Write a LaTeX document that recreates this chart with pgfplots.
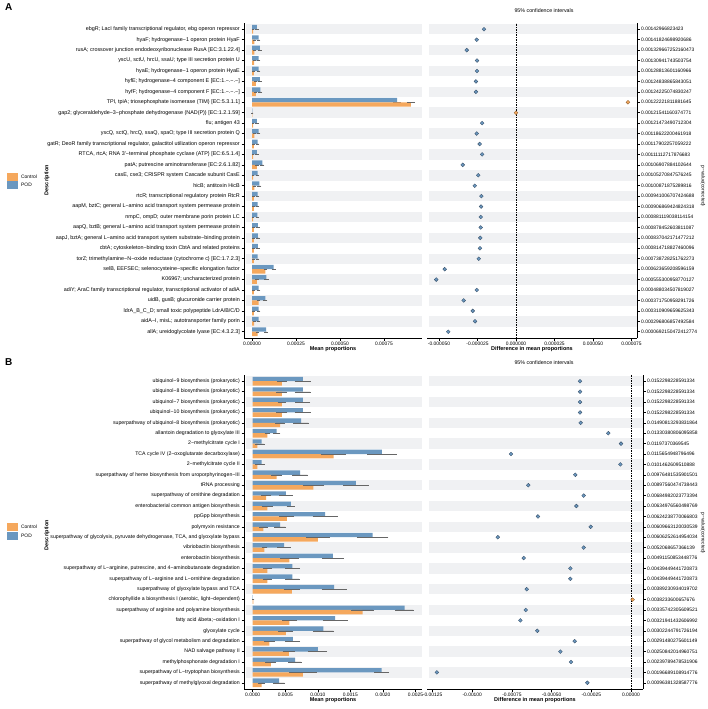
\documentclass[border=0pt]{standalone}
\usepackage{pgfplots}
\pgfplotsset{compat=1.18}
\usepackage{pgfplotstable}
\usepackage{fontspec}
\setmainfont{Liberation Sans}

\definecolor{pod}{RGB}{107,152,192}
\definecolor{ctrl}{RGB}{245,168,93}
\definecolor{stripe}{RGB}{240,241,243}
\definecolor{podedge}{RGB}{60,85,110}
\definecolor{ctrledge}{RGB}{150,100,50}

\newcommand\lab{\fontsize{4.9bp}{5.5bp}\selectfont}
\newcommand\labA{\fontsize{5.4bp}{6bp}\selectfont}
\newcommand\labB{\fontsize{5.2bp}{6bp}\selectfont}
\newcommand\ttl{\fontsize{5.5bp}{6.5bp}\selectfont\bfseries}

% row pod poderr ctrl ctrlerr diff
\pgfplotstableread{
row pod poderr ctrl ctrlerr diff
1 0.000028 0.000004 0.000006 0.000002 -0.0000208
2 0.000038 0.000005 0.000013 0.000003 -0.0000255
3 0.000044 0.000007 0.000013 0.000003 -0.000032
4 0.000038 0.000005 0.000012 0.000003 -0.0000253
5 0.000038 0.000005 0.000010 0.000003 -0.0000253
6 0.000044 0.000005 0.000022 0.000004 -0.000026
7 0.000047 0.000005 0.000022 0.000004 -0.000026
8 0.000824 0.000015 0.000903 0.000017 0.0000727
9 0.000002 0.000001 0.000002 0.000001 0
10 0.000028 0.000004 0.000006 0.000002 -0.000022
11 0.000038 0.000005 0.000013 0.000003 -0.0000255
12 0.000032 0.000005 0.000010 0.000003 -0.0000236
13 0.000028 0.000004 0.000006 0.000002 -0.000022
14 0.000059 0.000006 0.000028 0.000004 -0.0000346
15 0.000032 0.000005 0.000006 0.000002 -0.0000245
16 0.000042 0.000006 0.000013 0.000003 -0.0000268
17 0.000032 0.000005 0.000010 0.000003 -0.0000225
18 0.000032 0.000005 0.000010 0.000003 -0.0000227
19 0.000030 0.000005 0.000006 0.000002 -0.0000229
20 0.000034 0.000005 0.000010 0.000003 -0.0000229
21 0.000034 0.000005 0.000010 0.000003 -0.0000232
22 0.000034 0.000005 0.000010 0.000003 -0.0000234
23 0.000032 0.000005 0.000010 0.000003 -0.0000242
24 0.000123 0.000007 0.000076 0.000005 -0.0000463
25 0.000081 0.000008 0.000028 0.000004 -0.0000518
26 0.000038 0.000005 0.000010 0.000003 -0.0000255
27 0.000076 0.000006 0.000038 0.000005 -0.000034
28 0.000038 0.000005 0.000010 0.000003 -0.0000281
29 0.000038 0.000005 0.000012 0.000003 -0.0000266
30 0.000080 0.000006 0.000032 0.000004 -0.000044
}\dataA

\pgfplotstableread{
row pod poderr ctrl ctrlerr diff
1 0.000769 0.00011 0.000446 0.00006 -0.000321
2 0.000769 0.00011 0.000446 0.00007 -0.000321
3 0.000769 0.00010 0.000446 0.00005 -0.000321
4 0.000769 0.00011 0.000446 0.00007 -0.000321
5 0.000744 0.00011 0.000420 0.00006 -0.000317
6 0.000369 0.00004 0.000226 0.00003 -0.000143
7 0.000138 0.00003 0.000072 0.00002 -0.000063
8 0.001985 0.00021 0.001241 0.00018 -0.000756
9 0.000138 0.00003 0.000072 0.00002 -0.000067
10 0.000728 0.00011 0.000369 0.00007 -0.000351
11 0.001585 0.00018 0.000933 0.00015 -0.000647
12 0.000508 0.00009 0.000205 0.00006 -0.000298
13 0.000585 0.00005 0.000226 0.00007 -0.000344
14 0.001113 0.00018 0.000523 0.00010 -0.000586
15 0.000421 0.00008 0.000164 0.00005 -0.000254
16 0.001841 0.00023 0.001000 0.00017 -0.000839
17 0.000482 0.00009 0.000180 0.00003 -0.000298
18 0.001231 0.00015 0.000564 0.00013 -0.000676
19 0.000610 0.00010 0.000226 0.00006 -0.000382
20 0.000610 0.00010 0.000226 0.00006 -0.000382
21 0.001251 0.00018 0.000600 0.00011 -0.000657
22 0.000004 0.000002 0.000010 0.000003 0.00001
23 0.002333 0.00013 0.001687 0.00016 -0.000663
24 0.001267 0.00018 0.000564 0.00010 -0.000697
25 0.001087 0.00015 0.000508 0.00010 -0.00059
26 0.000615 0.00010 0.000256 0.00007 -0.000355
27 0.001000 0.00013 0.000554 0.00008 -0.000445
28 0.000651 0.00009 0.000277 0.00007 -0.000378
29 0.001980 0.00010 0.000769 0.00020 -0.001223
30 0.000405 0.00008 0.000138 0.00004 -0.000275
}\dataB

\pgfplotsset{
  panel/.style={
    scale only axis, anchor=north west,
    y dir=reverse, ymin=0.4, ymax=30.6, ytick={1,...,30},
    axis line style={line width=0.6bp},
    tick style={line width=0.5bp, black},
    major tick length=2.5bp, tick align=outside,
    scaled x ticks=false,
    xticklabel style={font=\lab, inner sep=1bp},
    yticklabel style={font=\lab, inner sep=1.5bp},
    xlabel style={font=\ttl, inner sep=0pt},
    /pgf/number format/.cd, fixed, fixed zerofill, assume math mode=true,
  },
  barax/.style={panel, axis x line*=bottom, axis y line*=left},
  diffax/.style={panel, axis x line*=bottom, axis y line*=right,
    xlabel={Difference in mean proportions}},
  errs/.style={error bars/.cd, x dir=both, x explicit,
    error bar style={line width=0.25bp, black!60},
    error mark options={line width=0.25bp, black!60, mark size=0.9bp}},
  podbar/.style={xbar, bar width=0.42, bar shift=-0.21, fill=pod, draw=none, errs},
  ctrlbar/.style={xbar, bar width=0.42, bar shift=0.21, fill=ctrl, draw=none, errs},
  poddot/.style={only marks, mark=*, mark size=1.9bp,
    mark options={fill=pod, draw=podedge, line width=0.4bp}},
  ctrldot/.style={only marks, mark=*, mark size=1.9bp,
    mark options={fill=ctrl, draw=ctrledge, line width=0.4bp}},
}

\newcommand\stripes{%
  \pgfplotsinvokeforeach{1,3,...,29}{%
    \fill[stripe] ({rel axis cs:0.01,0}|-{axis cs:0,##1-0.5}) rectangle ({rel axis cs:1,0}|-{axis cs:0,##1+0.5});}}
\newcommand\zeroline{%
  \draw[line width=0.5bp, dash pattern=on 1.5bp off 1bp] ({axis cs:0,1}|-{rel axis cs:0,0}) -- ({axis cs:0,1}|-{rel axis cs:0,1});}

\begin{document}
\begin{tikzpicture}
\useasboundingbox (0,0) rectangle (708bp,-709bp);

% ---------------- Panel A ----------------
\node[anchor=north west, font=\fontsize{10bp}{11bp}\selectfont\bfseries, inner sep=0pt] at (5bp,-3bp) {A};
\node[font=\fontsize{5.3bp}{6bp}\selectfont] at (544bp,-11bp) {95\% confidence intervals};

\begin{axis}[barax, at={(244bp,-23bp)}, width=178bp, height=315bp,
  xmin=-0.0000455, xmax=0.000966,
  xtick={0,0.00025,0.0005,0.00075},
  xticklabel style={/pgf/number format/precision=5},
  yticklabel style={font=\labA},
  xlabel={Mean proportions},
  yticklabels={
    {ebgR; LacI family transcriptional regulator, ebg operon repressor},
    {hyaF; hydrogenase−1 operon protein HyaF},
    {rusA; crossover junction endodeoxyribonuclease RusA [EC:3.1.22.4]},
    {yscU, sctU, hrcU, ssaU; type III secretion protein U},
    {hyaE; hydrogenase−1 operon protein HyaE},
    {hyfE; hydrogenase−4 component E [EC:1.−.−.−]},
    {hyfF; hydrogenase−4 component F [EC:1.−.−.−]},
    {TPI, tpiA; triosephosphate isomerase (TIM) [EC:5.3.1.1]},
    {gap2; glyceraldehyde−3−phosphate dehydrogenase (NAD(P)) [EC:1.2.1.59]},
    {flu; antigen 43},
    {yscQ, sctQ, hrcQ, ssaQ, spaO; type III secretion protein Q},
    {gatR; DeoR family transcriptional regulator, galactitol utilization operon repressor},
    {RTCA, rtcA; RNA 3'−terminal phosphate cyclase (ATP) [EC:6.5.1.4]},
    {patA; putrescine aminotransferase [EC:2.6.1.82]},
    {casE, cse3; CRISPR system Cascade subunit CasE},
    {hicB; antitoxin HicB},
    {rtcR; transcriptional regulatory protein RtcR},
    {aapM, bztC; general L−amino acid transport system permease protein},
    {nmpC, ompD; outer membrane porin protein LC},
    {aapQ, bztB; general L−amino acid transport system permease protein},
    {aapJ, bztA; general L−amino acid transport system substrate−binding protein},
    {cbtA; cytoskeleton−binding toxin CbtA and related proteins},
    {torZ; trimethylamine−N−oxide reductase (cytochrome c) [EC:1.7.2.3]},
    {selB, EEFSEC; selenocysteine−specific elongation factor},
    {K06967; uncharacterized protein},
    {adiY; AraC family transcriptional regulator, transcriptional activator of adiA},
    {uidB, gusB; glucuronide carrier protein},
    {ldrA\_B\_C\_D; small toxic polypeptide LdrA/B/C/D},
    {aidA−I, misL; autotransporter family porin},
    {allA; ureidoglycolate lyase [EC:4.3.2.3]}},
]
\stripes
\addplot[podbar] table[x=pod, y=row, x error=poderr] {\dataA};
\addplot[ctrlbar] table[x=ctrl, y=row, x error=ctrlerr] {\dataA};
\end{axis}

\begin{axis}[diffax, at={(427bp,-23bp)}, width=210bp, height=315bp,
  xmin=-0.0000578, xmax=0.0000786,
  xtick={-0.00005,-0.000025,0,0.000025,0.00005,0.000075},
  xticklabel style={/pgf/number format/precision=6},
  yticklabels={0.00142966823423, 0.00141824698920686, 0.001329667252160473,
    0.00130941743503754, 0.00128813601160966, 0.00124838865843051,
    0.00124225074830247, 0.00122221811881645, 0.00121541160374771,
    0.00121473490712304, 0.00118622200461918, 0.00117902257059222,
    0.00111112717876683, 0.00106907884102644, 0.00105270847576245,
    0.00100871875289816, 0.000941006707424688, 0.000906869424824318,
    0.000881119038114154, 0.000878452603811087, 0.000837042171477212,
    0.000814718827460096, 0.000738728251762273, 0.000623659208596159,
    0.000555300958770127, 0.000488034507819027, 0.000371750958291726,
    0.000310909659625343, 0.000296806857492584, 0.0000692150472412774},
]
\stripes
\zeroline
\addplot[poddot, restrict x to domain=-1:-0.0000001] table[x=diff, y=row] {\dataA};
\addplot[ctrldot, restrict x to domain=0:1] table[x=diff, y=row] {\dataA};
\end{axis}

\node[rotate=-90, font=\lab] at (703bp,-186bp) {p−value(corrected)};
\node[rotate=90, font=\ttl] at (47bp,-180bp) {Description};
\fill[ctrl] (7bp,-173bp) rectangle (18bp,-181bp);
\fill[pod] (7bp,-181bp) rectangle (18bp,-189bp);
\node[anchor=west, font=\lab, inner sep=0pt] at (21bp,-177bp) {Control};
\node[anchor=west, font=\lab, inner sep=0pt] at (21bp,-185bp) {POD};

% ---------------- Panel B ----------------
\node[anchor=north west, font=\fontsize{10bp}{11bp}\selectfont\bfseries, inner sep=0pt] at (5bp,-358bp) {B};
\node[font=\fontsize{5.3bp}{6bp}\selectfont] at (544bp,-363bp) {95\% confidence intervals};

\begin{axis}[barax, at={(244bp,-375bp)}, width=178bp, height=314bp,
  xmin=-0.000134, xmax=0.0026,
  xtick={0,0.0005,0.001,0.0015,0.002,0.0025},
  xticklabel style={/pgf/number format/precision=4},
  yticklabel style={font=\labB},
  xlabel={Mean proportions},
  yticklabels={
    {ubiquinol−9 biosynthesis (prokaryotic)},
    {ubiquinol−8 biosynthesis (prokaryotic)},
    {ubiquinol−7 biosynthesis (prokaryotic)},
    {ubiquinol−10 biosynthesis (prokaryotic)},
    {superpathway of ubiquinol−8 biosynthesis (prokaryotic)},
    {allantoin degradation to glyoxylate III},
    {2−methylcitrate cycle I},
    {TCA cycle IV (2−oxoglutarate decarboxylase)},
    {2−methylcitrate cycle II},
    {superpathway of heme biosynthesis from uroporphyrinogen−III},
    {tRNA processing},
    {superpathway of ornithine degradation},
    {enterobacterial common antigen biosynthesis},
    {ppGpp biosynthesis},
    {polymyxin resistance},
    {superpathway of glycolysis, pyruvate dehydrogenase, TCA, and glyoxylate bypass},
    {vibriobactin biosynthesis},
    {enterobactin biosynthesis},
    {superpathway of L−arginine, putrescine, and 4−aminobutanoate degradation},
    {superpathway of L−arginine and L−ornithine degradation},
    {superpathway of glyoxylate bypass and TCA},
    {chlorophyllide a biosynthesis I (aerobic, light−dependent)},
    {superpathway of arginine and polyamine biosynthesis},
    {fatty acid \&beta;−oxidation I},
    {glyoxylate cycle},
    {superpathway of glycol metabolism and degradation},
    {NAD salvage pathway II},
    {methylphosphonate degradation I},
    {superpathway of L−tryptophan biosynthesis},
    {superpathway of methylglyoxal degradation}},
]
\stripes
\addplot[podbar] table[x=pod, y=row, x error=poderr] {\dataB};
\addplot[ctrlbar] table[x=ctrl, y=row, x error=ctrlerr] {\dataB};
\end{axis}

\begin{axis}[diffax, at={(427bp,-375bp)}, width=216bp, height=314bp,
  xmin=-0.001285, xmax=0.0000756,
  xtick={-0.00125,-0.001,-0.00075,-0.0005,-0.00025,0},
  xticklabel style={/pgf/number format/precision=5},
  yticklabels={0.0152298228591334, 0.0152298228591334, 0.0152298228591334,
    0.0152298228591334, 0.01490813293831864, 0.01330380806095858,
    0.01197370369545, 0.0115654948796496, 0.0101462609510888,
    0.00976481535901501, 0.00897560474738443, 0.00684982023773394,
    0.00634976560498769, 0.00624238770066803, 0.00609663120030539,
    0.00606252614954034, 0.0052068657366139, 0.00491150853448776,
    0.00439449441720873, 0.00439449441720873, 0.00389230934019702,
    0.0038233600657676, 0.00335742305609521, 0.00321941432606992,
    0.00302244791726194, 0.00291480275601149, 0.00250842014960751,
    0.00239789478531906, 0.00196689108914776, 0.00096381328587776},
]
\stripes
\zeroline
\addplot[poddot, restrict x to domain=-1:-0.0000001] table[x=diff, y=row] {\dataB};
\addplot[ctrldot, restrict x to domain=0:1] table[x=diff, y=row] {\dataB};
\end{axis}

\node[rotate=-90, font=\lab] at (703bp,-533bp) {p−value(corrected)};
\node[rotate=90, font=\ttl] at (47bp,-535bp) {Description};
\fill[ctrl] (7bp,-523bp) rectangle (18bp,-531bp);
\fill[pod] (7bp,-532bp) rectangle (18bp,-540bp);
\node[anchor=west, font=\lab, inner sep=0pt] at (21bp,-527bp) {Control};
\node[anchor=west, font=\lab, inner sep=0pt] at (21bp,-536bp) {POD};
\end{tikzpicture}
\end{document}
